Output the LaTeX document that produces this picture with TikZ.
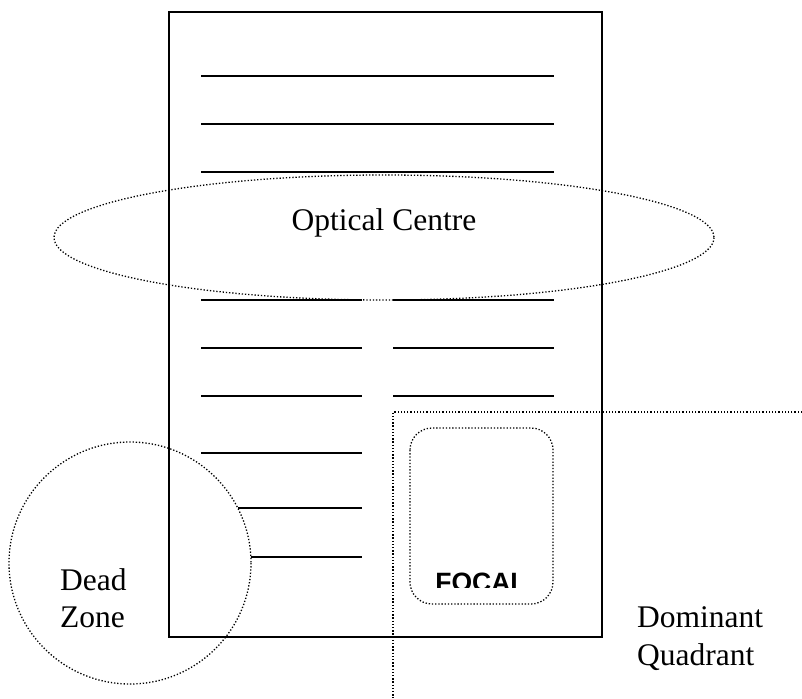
\documentclass[tikz,border=0pt]{standalone}
\usepackage{fontspec}
\setmainfont{Liberation Serif}
\newfontfamily\focalfont{Liberation Sans}
\begin{document}
\begin{tikzpicture}[x=1pt,y=-1pt,
  txtline/.style={line width=1.7pt},
  dotline/.style={line width=1.3pt, dash pattern=on 1.3pt off 1.9pt},
  lbl/.style={inner sep=0pt, font=\fontsize{31.5}{37}\selectfont, anchor=base west}]
\useasboundingbox (0,0) rectangle (802,698);
% page
\draw[line width=1.9pt] (169,12) rectangle (602,637);
% full-width lines
\foreach \y in {76,124,172} \draw[txtline] (201,\y) -- (554,\y);
% two columns
\foreach \y in {300,348,396} {
  \draw[txtline] (201,\y) -- (362,\y);
  \draw[txtline] (393,\y) -- (554,\y);
}
\draw[txtline] (201,453) -- (362,453);
\draw[txtline] (238,508) -- (362,508);
\draw[txtline] (251,557) -- (362,557);
% optical centre ellipse
\draw[dotline] (384,237.5) ellipse [x radius=330, y radius=62.5];
\node[lbl, anchor=base] (oc) at (384,230) {Optical Centre};
% dead zone circle
\draw[dotline] (130,563) circle [radius=121];
\node[lbl] (dead) at (60,590) {Dead};
\node[lbl] (zone) at (60,627) {Zone};
% dominant quadrant
\coordinate (qc) at (393,412);
\coordinate (qr) at (802,412);
\coordinate (qb) at (393,698);
\draw[dotline] (qr) -- (qc) -- (qb);
\node[lbl] (dom) at (637,627) {Dominant};
\node[lbl] (quad) at (637,665) {Quadrant};
% focal box
\draw[dotline, rounded corners=22pt] (410,428) rectangle (553,604);
\begin{scope}
\clip (400,540) rectangle (560,587);
\node[inner sep=0pt, anchor=base, font=\focalfont\bfseries\fontsize{26.5}{30}\selectfont] (focal) at (481,591) {FOCAL};
\end{scope}
\end{tikzpicture}
\end{document}
